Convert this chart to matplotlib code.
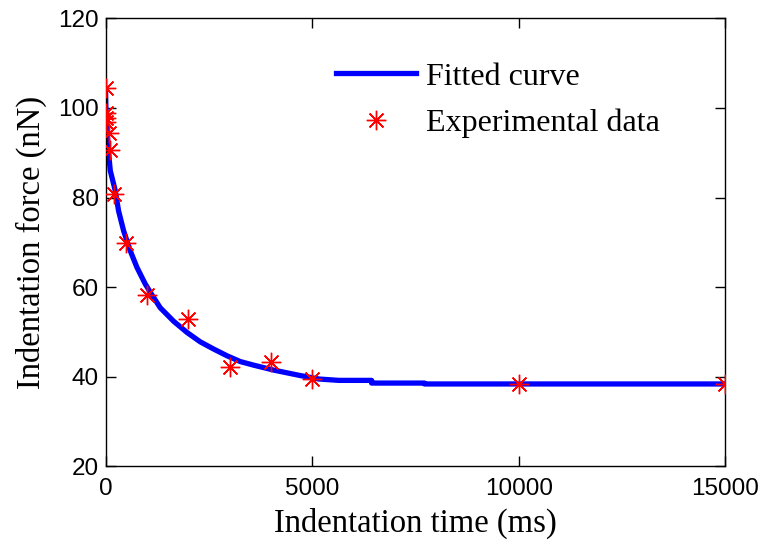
import numpy as np
import matplotlib
matplotlib.use("Agg")
import matplotlib.pyplot as plt

t_exp = [0, 10, 20, 20, 80, 100, 200, 500, 1000, 2000, 3000, 4000, 5000, 10000, 15000]
f_exp = [104.5, 98.8, 97.8, 96.8, 94.4, 90.6, 80.8, 69.8, 58.2, 52.9, 42.2, 43.2, 39.6, 38.3, 38.3]

# fitted curve
t_fit = [0, 10, 30, 72, 114, 235, 315, 436, 598, 760, 961, 1120, 1324, 1646, 1970,
         2292, 2614, 2937, 3260, 3582, 4066, 4700, 5170, 5650, 6440, 6440, 7720, 7720, 15000]
f_fit = [104.0, 99.0, 95.0, 90.0, 86.0, 81.5, 77.0, 72.6, 68.1, 64.4, 60.7, 58.3, 55.4, 52.4, 49.9,
         47.8, 46.2, 44.7, 43.4, 42.6, 41.5, 40.3, 39.5, 39.2, 39.2, 38.6, 38.6, 38.4, 38.4]

fig = plt.figure(figsize=(7.65, 5.52), dpi=100)
ax = fig.add_axes([0.138, 0.155, 0.810, 0.812])

ax.plot(t_fit, f_fit, color='#0000ff', lw=3.8, label='Fitted curve', zorder=2)
ax.plot(t_exp, f_exp, linestyle='none', marker=(8, 2, 0), ms=14, mew=1.0,
        color='#ff0000', label='Experimental data', zorder=3)

ax.set_xlim(0, 15000)
ax.set_ylim(20, 120)
ax.set_xticks([0, 5000, 10000, 15000])
ax.set_yticks([20, 40, 60, 80, 100, 120])
ax.tick_params(direction='in', length=7, width=1, top=True, right=True,
               labelsize=17.5, pad=5)
ax.tick_params(axis='x', pad=8)
for lab in ax.get_xticklabels() + ax.get_yticklabels():
    lab.set_family('Liberation Sans')
for sp in ax.spines.values():
    sp.set_linewidth(1)

ax.set_xlabel('Indentation time (ms)', family='Liberation Serif', fontsize=23.5, labelpad=6)
ax.set_ylabel('Indentation force (nN)', family='Liberation Serif', fontsize=23.5, labelpad=8)

leg = ax.legend(loc='upper left', bbox_to_anchor=(0.326, 0.966), frameon=False,
                prop={'family': 'Liberation Serif', 'size': 23},
                handlelength=2.5, handletextpad=0.3, labelspacing=0.53)

fig.savefig('out.png', dpi=100)
